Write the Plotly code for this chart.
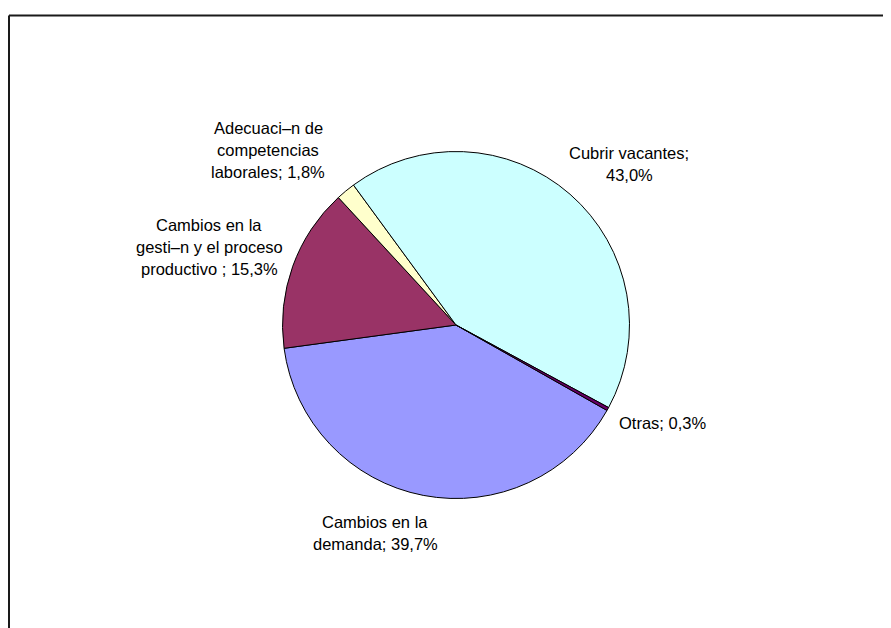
import plotly.graph_objects as go

# Data (Excel order: series colours 1..5)
categories = [
    "Cambios en la demanda",
    "Cambios en la gesti\u2013n y el proceso productivo",
    "Adecuaci\u2013n de competencias laborales",
    "Cubrir vacantes",
    "Otras",
]
values = [39.7, 15.3, 1.8, 43.0, 0.3]
colors = ["#9999FF", "#993366", "#FFFFCC", "#CCFFFF", "#660066"]

# label lines as displayed
label_lines = [
    ["Cambios en la", "demanda; 39,7%"],
    ["Cambios en la", "gesti\u2013n y el proceso", "productivo ; 15,3%"],
    ["Adecuaci\u2013n de", "competencias", "laborales; 1,8%"],
    ["Cubrir vacantes;", "43,0%"],
    ["Otras; 0,3%"],
]

W, H = 891, 628
OFF = 8  # page body margin offset
cx, cy, r = 456 - OFF, 325 - OFF, 173.5

fig = go.Figure(go.Pie(
    labels=categories,
    values=values,
    marker=dict(colors=colors, line=dict(color="#000000", width=1)),
    sort=False,
    direction="clockwise",
    rotation=119.5,
    textinfo="none",
    hoverinfo="label+percent",
    showlegend=False,
    domain=dict(x=[(cx - r) / W, (cx + r) / W], y=[1 - (cy + r) / H, 1 - (cy - r) / H]),
))

# label positions (pixel centres of first line, reference coords)
label_pos = [
    (375, 522),
    (209, 225),
    (268, 128),
    (629, 153),
    (662, 423),
]
line_h = 22
annotations = []
for lines, (px, py) in zip(label_lines, label_pos):
    for k, t in enumerate(lines):
        annotations.append(dict(
            text=t, x=(px - OFF) / W, y=1 - (py - OFF + k * line_h) / H,
            xref="paper", yref="paper", showarrow=False,
            xanchor="center", yanchor="middle",
            font=dict(family="Liberation Sans, Arial, sans-serif", size=16.5, color="#000000"),
        ))

bx, by = 8.5 - OFF + 0.5, 15.5 - OFF
shapes = [
    dict(type="line", xref="paper", yref="paper", x0=bx / W, x1=bx / W, y0=-0.05, y1=1 - by / H,
         line=dict(color="#1a1a1a", width=2)),
    dict(type="line", xref="paper", yref="paper", x0=bx / W, x1=1.05, y0=1 - by / H, y1=1 - by / H,
         line=dict(color="#1a1a1a", width=2)),
]

fig.update_layout(
    width=W, height=H,
    margin=dict(l=0, r=0, t=0, b=0),
    paper_bgcolor="#FFFFFF",
    plot_bgcolor="#FFFFFF",
    annotations=annotations,
    shapes=shapes,
)

fig.write_html("out.html")
